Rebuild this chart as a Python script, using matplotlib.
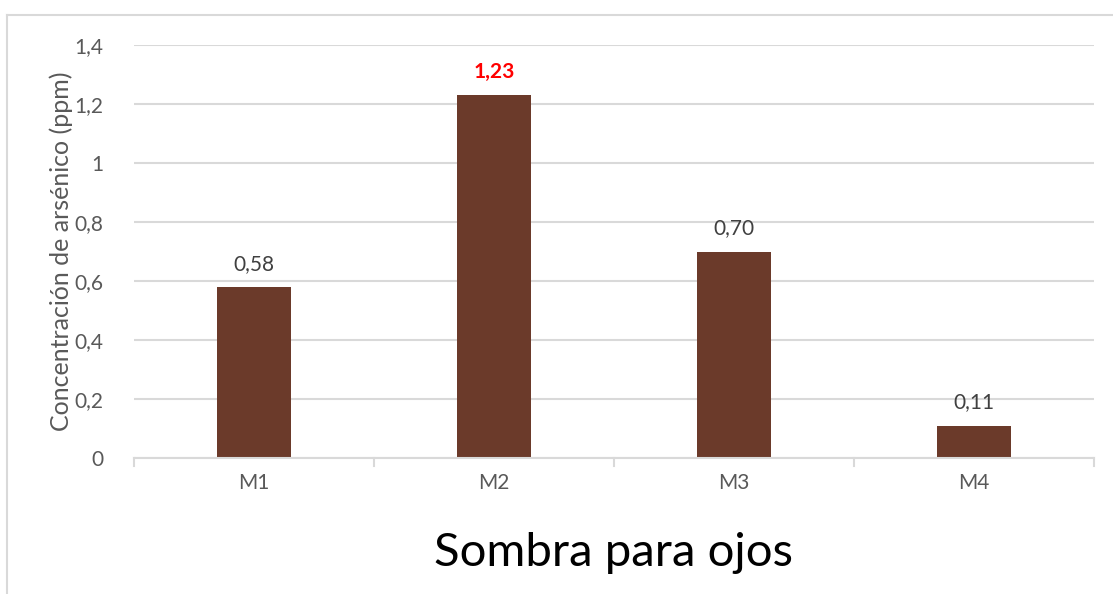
import numpy as np
import matplotlib.pyplot as plt
from matplotlib.lines import Line2D

categories = ['M1', 'M2', 'M3', 'M4']
values = [0.58, 1.23, 0.70, 0.11]
value_labels = ['0,58', '1,23', '0,70', '0,11']
yticks = [0, 0.2, 0.4, 0.6, 0.8, 1.0, 1.2, 1.4]
ytick_labels = ['0', '0,2', '0,4', '0,6', '0,8', '1', '1,2', '1,4']

plt.rcParams['font.family'] = ['Lato', 'DejaVu Sans']

fig = plt.figure(figsize=(11.13, 5.94), dpi=100)
ax = fig.add_axes([134 / 1113, 1 - 458 / 594, 960 / 1113, 413 / 594])

x = np.arange(len(categories))
ax.bar(x, values, width=0.31, color='#6B3A2A', zorder=3)

ax.set_xlim(-0.5, len(categories) - 0.5)
ax.set_ylim(0, 1.4)
ax.set_yticks(yticks)
ax.set_yticklabels(ytick_labels)
ax.set_xticks(x)
ax.set_xticklabels(categories)
ax.grid(axis='y', color='#D9D9D9', linewidth=1.5, zorder=0)

for s in ['top', 'right', 'left']:
    ax.spines[s].set_visible(False)
ax.spines['bottom'].set_color('#D9D9D9')
ax.spines['bottom'].set_linewidth(1.5)
ax.spines['bottom'].set_zorder(4)

ax.tick_params(axis='y', length=0, pad=22, labelsize=15, labelcolor='#595959')
ax.tick_params(axis='x', length=0, pad=11, labelsize=15, labelcolor='#595959')

# category boundary tick marks
for b in np.arange(-0.5, len(categories), 1.0):
    ax.add_line(Line2D([b, b], [0, -0.027], color='#D9D9D9', linewidth=1.5,
                       clip_on=False, transform=ax.transData))

for i, (v, lab) in enumerate(zip(values, value_labels)):
    if i == 1:
        ax.text(i, v + 0.045, lab, ha='center', va='bottom', fontsize=15,
                color='#FF0000', fontweight='bold')
    else:
        ax.text(i, v + 0.045, lab, ha='center', va='bottom', fontsize=15,
                color='#404040')

ax.set_ylabel('Concentración de arsénico (ppm)', fontsize=18, color='#595959')
ax.yaxis.set_label_coords(-61 / 960, 0.5)
ax.set_xlabel('Sombra para ojos', fontsize=34, color='#000000', labelpad=28)

# outer chart border (left and top)
fig.add_artist(Line2D([7 / 1113, 7 / 1113], [0, 1 - 15 / 594], color='#D9D9D9',
                      linewidth=1.5, transform=fig.transFigure))
fig.add_artist(Line2D([7 / 1113, 1], [1 - 15 / 594, 1 - 15 / 594], color='#D9D9D9',
                      linewidth=1.5, transform=fig.transFigure))

fig.savefig('out.png', dpi=100)
